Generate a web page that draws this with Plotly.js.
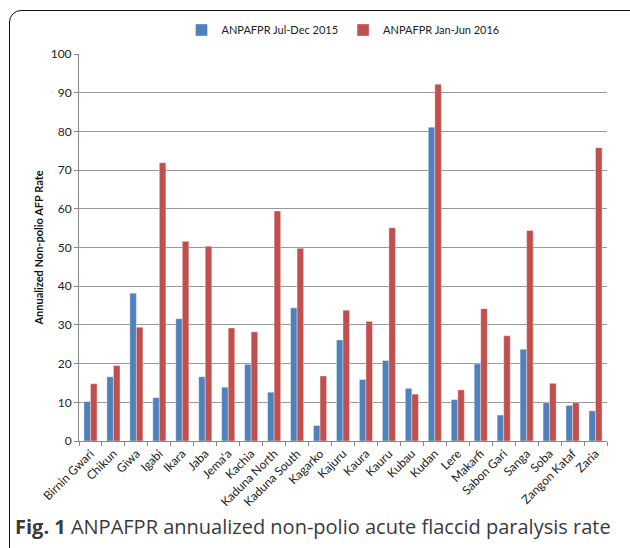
<!DOCTYPE html>
<html>
<head>
<meta charset="utf-8">
<script src="https://cdn.plot.ly/plotly-3.0.1.min.js"></script>
<style>
  html, body { margin: 0; padding: 0; background: #fff; overflow: hidden; }
  #wrap { position: relative; width: 630px; height: 548px; }
  #chart { position: absolute; left: 0; top: 0; width: 630px; height: 548px; }
  #frame { position: absolute; left: 9px; top: 10px; width: 640px; height: 560px;
           border: 1.5px solid #111; border-radius: 12px; box-sizing: border-box; pointer-events: none; }
</style>
</head>
<body>
<div id="wrap">
  <div id="chart"></div>
  <div id="frame"></div>
</div>
<script>
const categories = ["Birnin Gwari","Chikun","Giwa","Igabi","Ikara","Jaba","Jema'a","Kachia","Kaduna North","Kaduna South","Kagarko","Kajuru","Kaura","Kauru","Kubau","Kudan","Lere","Makarfi","Sabon Gari","Sanga","Soba","Zangon Kataf","Zaria"];
const series1Name = "ANPAFPR Jul-Dec 2015";
const series1 = [10.2,16.6,38.2,11.2,31.6,16.6,13.9,19.8,12.6,34.4,4.0,26.1,15.9,20.8,13.6,81.1,10.7,19.9,6.7,23.7,9.9,9.2,7.8];
const series2Name = "ANPAFPR Jan-Jun 2016";
const series2 = [14.8,19.5,29.4,71.9,51.6,50.3,29.2,28.2,59.4,49.8,16.8,33.8,30.9,55.1,12.1,92.2,13.2,34.2,27.2,54.4,14.9,9.9,75.8];
const yTicks = [0,10,20,30,40,50,60,70,80,90,100];
const yTitle = "Annualized Non-polio AFP Rate";
const captionBold = "Fig. 1";
const captionText = " ANPAFPR annualized non-polio acute flaccid paralysis rate";

const font = "Lato, 'Open Sans', sans-serif";

const traces = [
  { type: "bar", name: series1Name, x: categories, y: series1,
    marker: { color: "#4F81BD", line: { color: "rgba(255,255,255,0.6)", width: 0.6 } } },
  { type: "bar", name: series2Name, x: categories, y: series2,
    marker: { color: "#C0504D", line: { color: "rgba(255,255,255,0.6)", width: 0.6 } } }
];

const layout = {
  width: 630, height: 548,
  margin: { l: 79, r: 23, t: 54, b: 107 },
  paper_bgcolor: "#fff", plot_bgcolor: "#fff",
  barmode: "group", bargap: 0.43, bargroupgap: 0,
  font: { family: font, size: 12, color: "#222" },
  showlegend: true,
  legend: { orientation: "h", x: 0.5, xanchor: "center", y: 1.062, yanchor: "middle",
            font: { family: font, size: 11, color: "#222" }, itemwidth: 30, traceorder: "normal" },
  xaxis: {
    type: "category", tickangle: -45, tickfont: { family: font, size: 12, color: "#222" },
    showline: true, linecolor: "#888", linewidth: 1,
    ticks: "outside", ticklen: 4, tickcolor: "#888", tickson: "boundaries",
    showgrid: false, automargin: false
  },
  yaxis: {
    range: [0, 100], tickvals: yTicks, ticktext: yTicks.map(String),
    tickfont: { family: font, size: 12, color: "#222" },
    showline: true, linecolor: "#888", linewidth: 1,
    ticks: "outside", ticklen: 4, tickcolor: "#888",
    showgrid: true, gridcolor: "#999", gridwidth: 1, zeroline: false,
    title: { text: "<b>" + yTitle + "</b>", font: { family: font, size: 11, color: "#111" }, standoff: 4 },
    automargin: false
  },
  annotations: [
    { xref: "paper", yref: "paper", x: -0.125, y: -0.221, xanchor: "left", yanchor: "middle",
      showarrow: false, align: "left",
      text: "<b>" + captionBold + "</b>" + captionText,
      font: { family: "'Open Sans', 'Noto Sans', sans-serif", size: 20, color: "#3a3a3a" } }
  ]
};

Plotly.newPlot("chart", traces, layout, { displayModeBar: false, staticPlot: true });
</script>
</body>
</html>
